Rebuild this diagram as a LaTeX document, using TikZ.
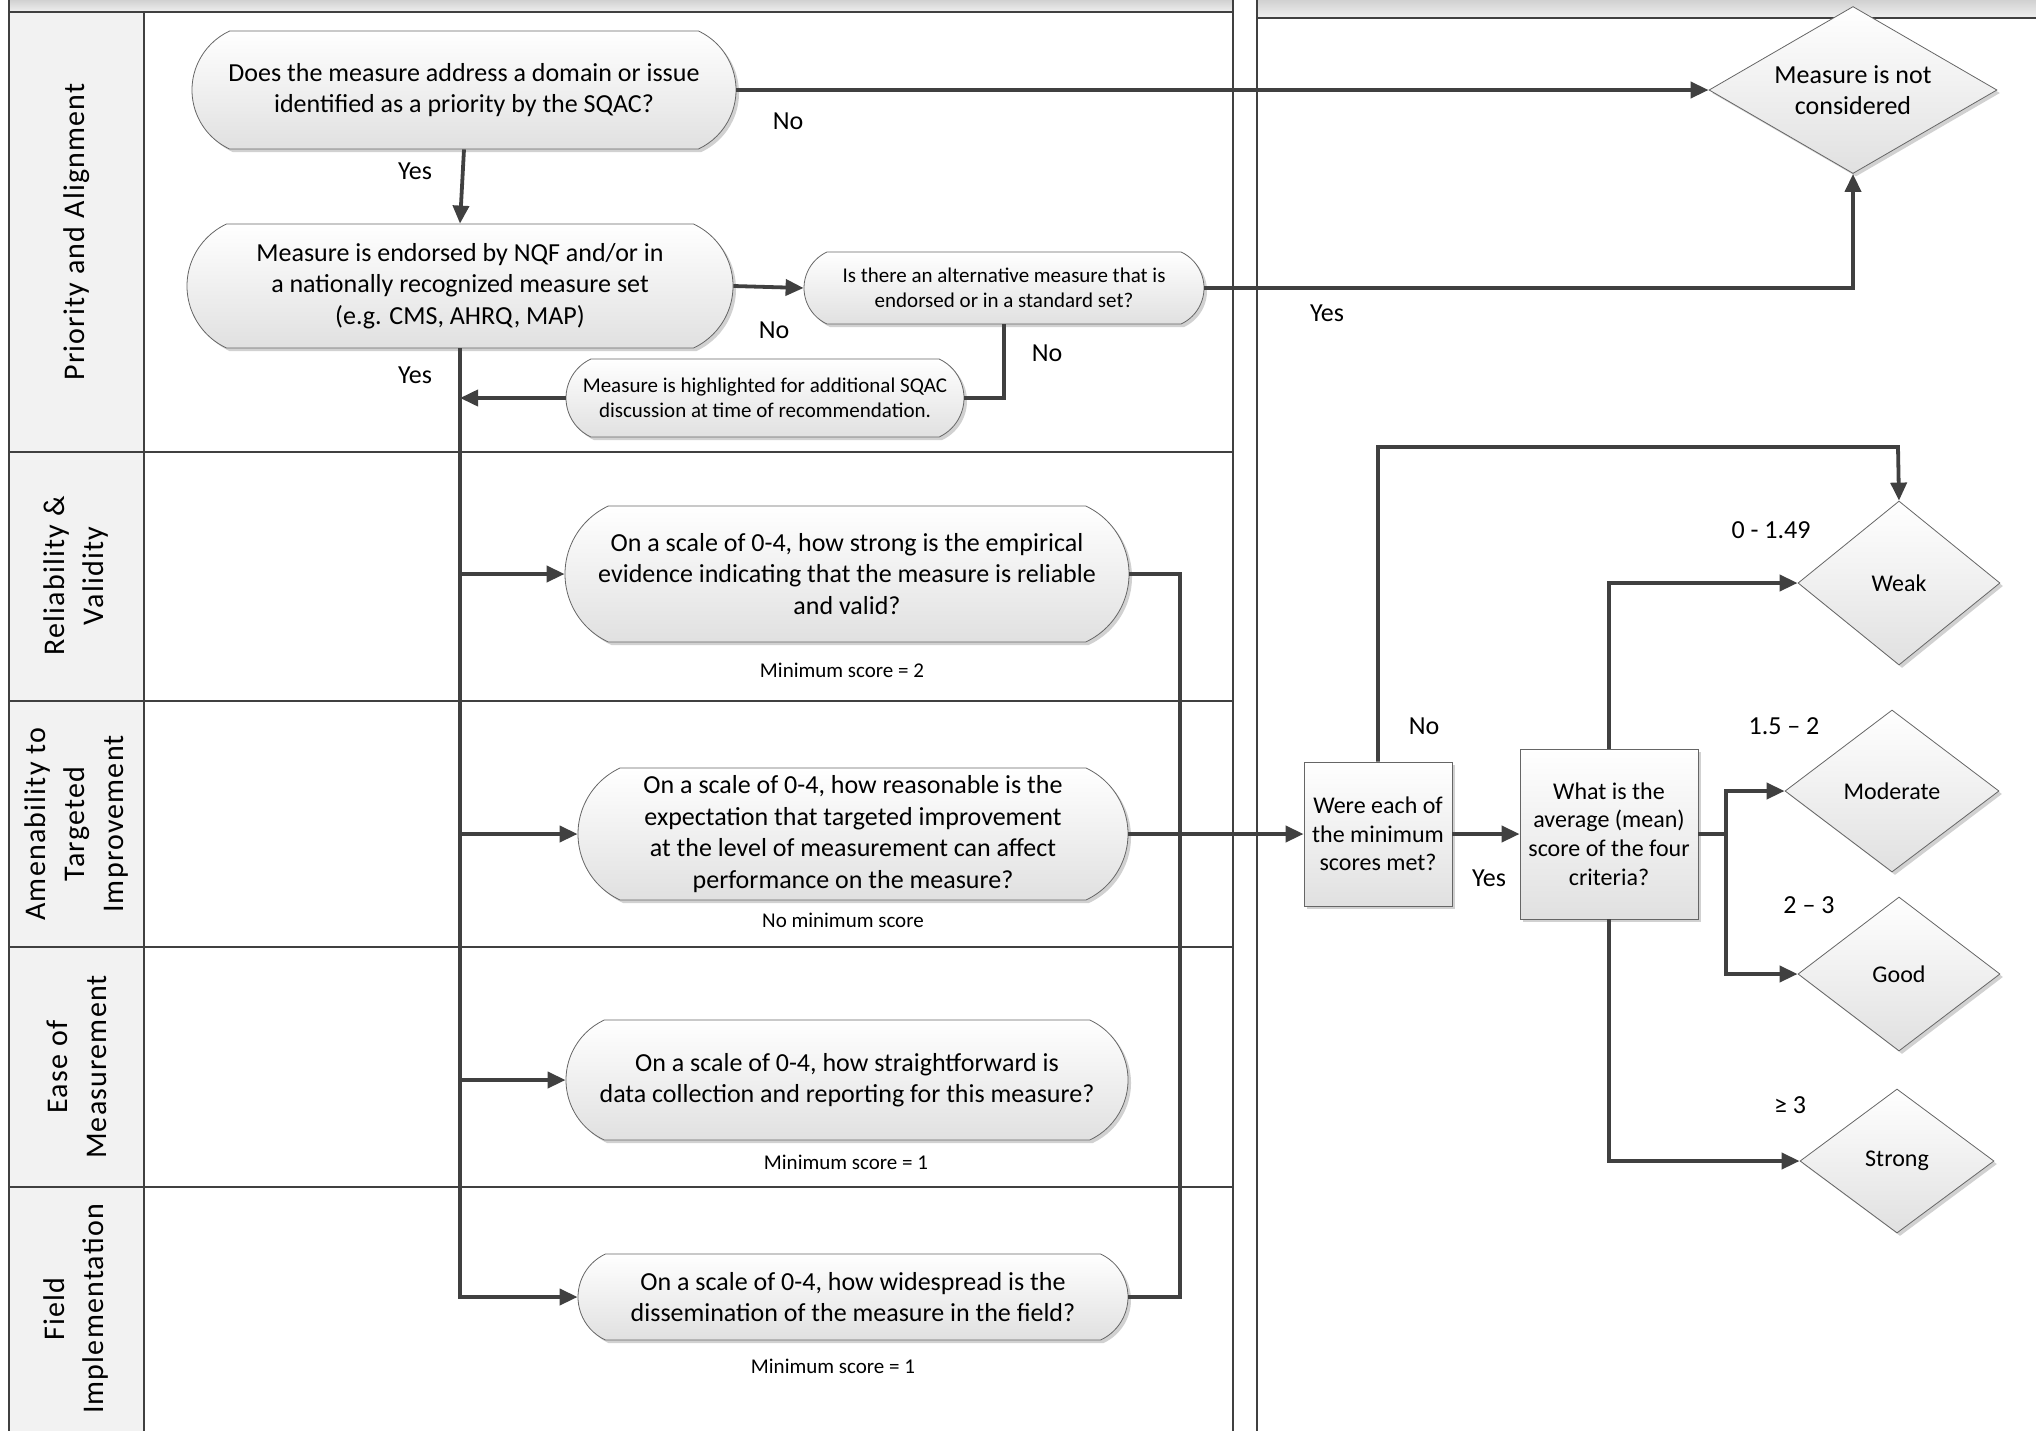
\documentclass[tikz,border=0pt]{standalone}
\usepackage{fontspec}
\setmainfont{Carlito}
\newfontfamily\lanefont[LetterSpace=4]{Carlito}
\usetikzlibrary{positioning,calc,arrows.meta,shapes.misc,shapes.geometric,shadows}

\begin{document}
\begin{tikzpicture}[x=0.5pt,y=-0.5pt]
	\tikzset{
		lane/.style={draw=black!75, line width=1.2pt},
		line/.style={draw=black!75, line width=1.9pt},
		con/.style={line, -{Triangle[length=9pt,width=8pt]}},
		shade/.style={draw=black!60, thin, top color=white, bottom color=black!12,
			drop shadow={shadow xshift=1.5pt, shadow yshift=-1.5pt, opacity=0.18, fill=black}},
		term/.style={shade, rounded rectangle, rounded rectangle arc length=130, align=center,
			inner sep=2pt, font=\fontsize{13}{15.8}\selectfont},
		small/.style={term, font=\fontsize{10.5}{12.5}\selectfont},
		box/.style={shade, rectangle, align=center, inner sep=1pt, font=\fontsize{12}{14.3}\selectfont},
		dia/.style={shade, diamond, align=center, inner sep=0pt, font=\fontsize{12}{15.6}\selectfont},
		lbl/.style={font=\fontsize{13}{15.6}\selectfont},
		note/.style={font=\fontsize{10.5}{12.5}\selectfont},
		head/.style={rotate=90, align=center, font=\lanefont\fontsize{15}{19.5}\selectfont}
	}
	\useasboundingbox (0,0) rectangle (2036,1431);
	% pools
	\fill[top color=black!18, bottom color=black!6] (9,0) rectangle (1233,12);
	\fill[top color=black!18, bottom color=black!6] (1257,0) rectangle (2036,18);
	\fill[black!5] (9,12) rectangle (144,1431);
	\draw[lane] (9,0) -- (9,1431);
	\draw[lane] (144,12) -- (144,1431);
	\draw[lane] (1233,0) -- (1233,1431);
	\draw[lane] (1257,0) -- (1257,1431);
	\draw[lane] (1257,18) -- (2036,18);
	\foreach \y in {12,452,701,947,1187} \draw[lane] (9,\y) -- (1233,\y);
	% lane headers
	\node[head] (h1) at (76.5,232) {Priority and Alignment};
	\node[head] (h2) at (76.5,576) {Reliability \&\\Validity};
	\node[head] (h3) at (76.5,824) {Amenability to\\Targeted\\Improvement};
	\node[head] (h4) at (76.5,1067) {Ease of\\Measurement};
	\node[head] (h5) at (76.5,1309) {Field\\Implementation};
	% priority lane
	\node[term, minimum width=276pt, minimum height=59pt] (prio) at (464,90)
		{Does the measure address a domain or issue\\identified as a priority by the SQAC?};
	\node[term, minimum width=277pt, minimum height=62pt] (endo) at (460,286)
		{Measure is endorsed by NQF and/or in\\a nationally recognized measure set\\(e.g. CMS, AHRQ, MAP)};
	\node[small, minimum width=204pt, minimum height=36pt] (alt) at (1004,288)
		{Is there an alternative measure that is\\endorsed or in a standard set?};
	\node[small, minimum width=203pt, minimum height=39pt] (high) at (765,398)
		{Measure is highlighted for additional SQAC\\discussion at time of recommendation.};
	\node[dia, minimum width=144pt, minimum height=83.5pt] (notc) at (1853,90) {};
	\node[align=center, font=\fontsize{13}{15.6}\selectfont] (notct) at (notc.center)
		{Measure is not\\considered};
	% criteria
	\node[term, minimum width=286pt, minimum height=68pt] (rel) at (847,574)
		{On a scale of 0-4, how strong is the empirical\\evidence indicating that the measure is reliable\\and valid?};
	\node[term, minimum width=279pt, minimum height=66pt] (amen) at (853,834)
		{On a scale of 0-4, how reasonable is the\\expectation that targeted improvement\\at the level of measurement can affect\\performance on the measure?};
	\node[term, minimum width=285pt, minimum height=60pt] (ease) at (847,1080)
		{On a scale of 0-4, how straightforward is\\data collection and reporting for this measure?};
	\node[term, minimum width=279pt, minimum height=43pt] (field) at (853,1297)
		{On a scale of 0-4, how widespread is the\\dissemination of the measure in the field?};
	\node[note] (n1) at (842,670) {Minimum score = 2};
	\node[note] (n2) at (843,920) {No minimum score};
	\node[note] (n3) at (846,1162) {Minimum score = 1};
	\node[note] (n4) at (833,1366) {Minimum score = 1};
	% scoring
	\node[box, minimum width=74pt, minimum height=72pt] (met) at (1378,834)
		{Were each of\\the minimum\\scores met?};
	\node[box, minimum width=89pt, minimum height=85pt] (avg) at (1609,834)
		{What is the\\average (mean)\\score of the four\\criteria?};
	\node[dia, minimum width=101pt, minimum height=82pt] (weak) at (1899,583) {Weak};
	\node[dia, minimum width=107pt, minimum height=81pt] (mod) at (1892,791) {Moderate};
	\node[dia, minimum width=101pt, minimum height=77pt] (good) at (1899,974) {Good};
	\node[dia, minimum width=97pt, minimum height=72pt] (strong) at (1897,1161) {Strong};
	\coordinate (col) at (1180,1297);
	\coordinate (fork) at (1726,834);
	\coordinate (loop) at (1898,447);
	% connectors
	\draw[con] (prio.south) -- (endo.north);
	\draw[con] (prio.east) -- (notc.west);
	\draw[con] (endo.east) -- (alt.west);
	\draw[con] (alt.east) -| (notc.south);
	\draw[line] (alt.south) |- (high.east);
	\draw[con] (high.west) -- (high.west -| endo.south);
	\draw[con] (endo.south) |- (field.west);
	\draw[con] (endo.south |- rel.west) -- (rel.west);
	\draw[con] (endo.south |- amen.west) -- (amen.west);
	\draw[con] (endo.south |- ease.west) -- (ease.west);
	\draw[line] (rel.east) -| (col) -- (field.east);
	\draw[con] (amen.east) -- (met.west);
	\draw[con] (met.east) -- (avg.west);
	\draw[con] (met.north) |- (loop) -- (weak.north);
	\draw[con] (avg.north) |- (weak.west);
	\draw[line] (avg.east) -- (fork);
	\draw[con] (fork) |- (mod.west);
	\draw[con] (fork) |- (good.west);
	\draw[con] (avg.south) |- (strong.west);
	% labels
	\node[lbl] (y1) at (415,171) {Yes};
	\node[lbl] (x1) at (788,121) {No};
	\node[lbl] (x2) at (774,330) {No};
	\node[lbl] (y2) at (1327,313) {Yes};
	\node[lbl] (x3) at (1047,353) {No};
	\node[lbl] (y3) at (415,375) {Yes};
	\node[lbl] (x4) at (1424,726) {No};
	\node[lbl] (y4) at (1489,878) {Yes};
	\node[lbl] (s1) at (1771,530) {0 - 1.49};
	\node[lbl] (s2) at (1784,726) {1.5 – 2};
	\node[lbl] (s3) at (1809,905) {2 – 3};
	\node[lbl] (s4) at (1790,1105) {≥ 3};
\end{tikzpicture}
\end{document}
